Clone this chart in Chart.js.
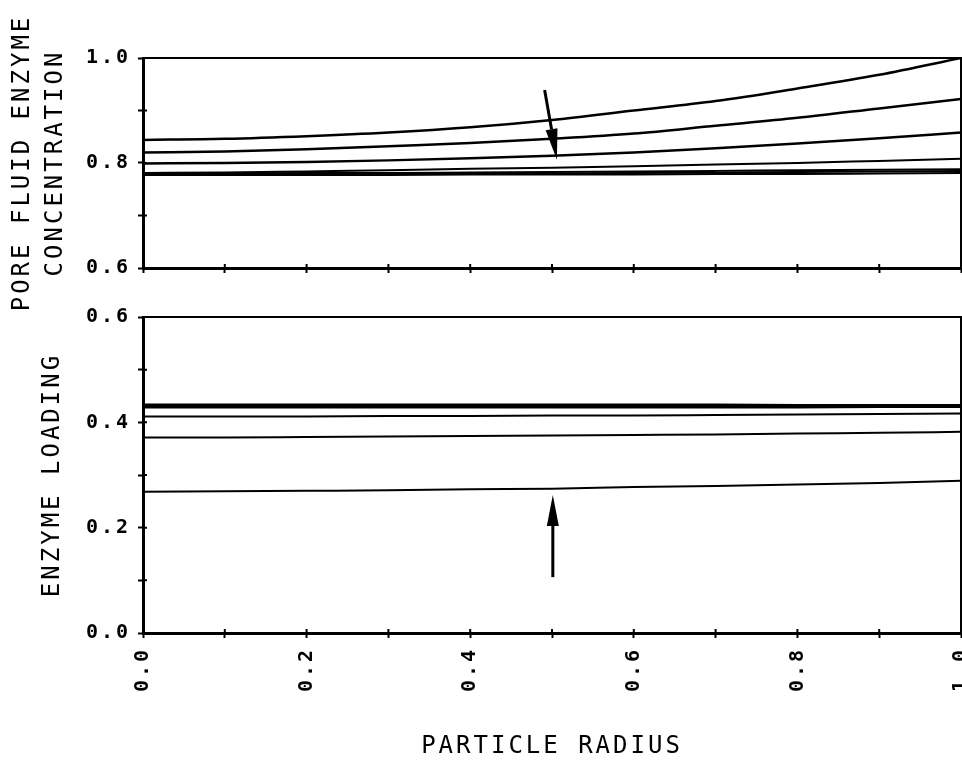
<!DOCTYPE html>
<html>
<head>
<meta charset="utf-8">
<title>Pore fluid enzyme concentration and enzyme loading</title>
<script src="https://cdn.jsdelivr.net/npm/chart.js@4.4.1/dist/chart.umd.min.js"></script>
<style>
  html, body { margin: 0; padding: 0; background: #fff; }
  #wrap { position: relative; width: 962px; height: 766px; }
  #wrap canvas { position: absolute; left: 0; top: 0; }
</style>
</head>
<body>
<div id="wrap">
  <canvas id="chartConc" width="962" height="766"></canvas>
  <canvas id="chartLoad" width="962" height="766"></canvas>
</div>
<script>
// Radial profiles: x = dimensionless particle radius
const radius = [0, 0.1, 0.2, 0.3, 0.4, 0.5, 0.6, 0.7, 0.8, 0.9, 1.0];

// Pore fluid enzyme concentration, one curve per run
const conc1 = [0.844, 0.846, 0.851, 0.858, 0.868, 0.882, 0.900, 0.918, 0.942, 0.968, 1.000];
const conc2 = [0.820, 0.822, 0.826, 0.832, 0.838, 0.846, 0.856, 0.871, 0.886, 0.904, 0.922];
const conc3 = [0.799, 0.800, 0.802, 0.805, 0.809, 0.814, 0.820, 0.828, 0.837, 0.847, 0.858];
const conc4 = [0.781, 0.782, 0.784, 0.786, 0.789, 0.791, 0.794, 0.797, 0.800, 0.804, 0.808];
const conc5 = [0.780, 0.780, 0.781, 0.781, 0.782, 0.783, 0.784, 0.785, 0.786, 0.787, 0.788];
const conc6 = [0.778, 0.778, 0.778, 0.779, 0.779, 0.780, 0.781, 0.782, 0.783, 0.784, 0.785];
const conc7 = [0.777, 0.777, 0.777, 0.777, 0.778, 0.778, 0.778, 0.779, 0.779, 0.780, 0.781];

// Enzyme loading, same runs
const load1 = [0.268, 0.269, 0.270, 0.271, 0.273, 0.274, 0.277, 0.279, 0.282, 0.285, 0.289];
const load2 = [0.371, 0.371, 0.372, 0.373, 0.374, 0.375, 0.376, 0.377, 0.379, 0.380, 0.382];
const load3 = [0.411, 0.411, 0.411, 0.412, 0.412, 0.413, 0.413, 0.414, 0.415, 0.416, 0.417];
const load4 = [0.428, 0.428, 0.428, 0.428, 0.428, 0.428, 0.428, 0.428, 0.428, 0.429, 0.429];
const load5 = [0.431, 0.431, 0.431, 0.431, 0.431, 0.431, 0.431, 0.431, 0.431, 0.431, 0.431];
const load6 = [0.434, 0.434, 0.434, 0.434, 0.434, 0.434, 0.434, 0.434, 0.433, 0.433, 0.433];

// Axis ticks (marks) and the ones that carry a label
const xTicks = [0, 0.1, 0.2, 0.3, 0.4, 0.5, 0.6, 0.7, 0.8, 0.9, 1.0];
const xLabels = [0, 0.2, 0.4, 0.6, 0.8, 1.0];
const concTicks = [0.6, 0.7, 0.8, 0.9, 1.0];
const concLabels = [0.6, 0.8, 1.0];
const loadTicks = [0, 0.1, 0.2, 0.3, 0.4, 0.5, 0.6];
const loadLabels = [0, 0.2, 0.4, 0.6];

// Arrows showing the direction of the parameter change (data coordinates)
const concArrow = { from: [0.491, 0.939], to: [0.506, 0.806] };
const loadArrow = { from: [0.501, 0.106], to: [0.501, 0.262] };

const FONT = "'DejaVu Sans Mono', monospace";
const tickFont = { family: FONT, size: 20, weight: 'bold' };
const titleFont = { family: FONT, size: 24, weight: 'normal', lineHeight: 1.375 };

const hasLabel = (list, v) => list.some(l => Math.abs(l - v) < 1e-6);

function series(values, width) {
    return {
        data: radius.map((r, i) => ({ x: r, y: values[i] })),
        borderColor: '#000',
        borderWidth: width,
        pointRadius: 0,
        cubicInterpolationMode: 'monotone',
        fill: false
    };
}

function tickGrid() {
    return { drawOnChartArea: false, drawTicks: true, tickLength: 5, tickWidth: 2, tickColor: '#000' };
}

function yAxis(min, max, ticks, labelled, title, titlePad) {
    return {
        type: 'linear',
        min, max,
        afterBuildTicks: s => { s.ticks = ticks.map(v => ({ value: v })); },
        afterFit: s => { s.width = 143; },
        ticks: {
            autoSkip: false,
            padding: 7,
            color: '#000',
            font: tickFont,
            callback: v => hasLabel(labelled, v) ? v.toFixed(1) : ''
        },
        grid: tickGrid(),
        border: { color: '#000', width: 3 },
        title: { display: true, text: title, color: '#000', font: titleFont, padding: { top: titlePad, bottom: 0 } }
    };
}

function xAxis(withLabels) {
    return {
        type: 'linear',
        min: 0, max: 1,
        afterBuildTicks: s => { s.ticks = xTicks.map(v => ({ value: v })); },
        afterFit: s => {
            s.height = withLabels ? 133 : 10;
            s.paddingLeft = 0;
            s.paddingRight = 0;
        },
        ticks: {
            display: withLabels,
            autoSkip: false,
            minRotation: 90,
            maxRotation: 90,
            padding: 9,
            color: '#000',
            font: tickFont,
            callback: v => hasLabel(xLabels, v) ? v.toFixed(1) : ''
        },
        grid: tickGrid(),
        border: { color: '#000', width: 3 },
        title: {
            display: withLabels,
            text: 'PARTICLE RADIUS',
            color: '#000',
            font: titleFont,
            padding: { top: 0, bottom: 2.5 }
        }
    };
}

// wide plotter-style lettering
const spacing = {
    id: 'spacing',
    beforeDraw(chart) { chart.ctx.letterSpacing = '3px'; }
};

// box around the plot area and tick marks that also point inward
const frame = {
    id: 'frame',
    afterDraw(chart) {
        const { ctx, chartArea: a, scales } = chart;
        ctx.save();
        ctx.strokeStyle = '#000';
        ctx.lineWidth = 2;
        ctx.strokeRect(a.left, a.top, a.right - a.left, a.bottom - a.top);
        ctx.beginPath();
        scales.x.ticks.forEach((t, i) => {
            const px = scales.x.getPixelForTick(i);
            ctx.moveTo(px, a.bottom);
            ctx.lineTo(px, a.bottom - 4);
        });
        scales.y.ticks.forEach((t, i) => {
            const py = scales.y.getPixelForTick(i);
            ctx.moveTo(a.left, py);
            ctx.lineTo(a.left + 4, py);
        });
        ctx.stroke();
        ctx.restore();
    }
};

const arrows = {
    id: 'arrows',
    afterDatasetsDraw(chart, args, opts) {
        const { ctx, scales } = chart;
        (opts.list || []).forEach(arr => {
            const x0 = scales.x.getPixelForValue(arr.from[0]);
            const y0 = scales.y.getPixelForValue(arr.from[1]);
            const x1 = scales.x.getPixelForValue(arr.to[0]);
            const y1 = scales.y.getPixelForValue(arr.to[1]);
            const ang = Math.atan2(y1 - y0, x1 - x0);
            const headLen = 31, headHalf = 6;
            const bx = x1 - headLen * Math.cos(ang);
            const by = y1 - headLen * Math.sin(ang);
            ctx.save();
            ctx.strokeStyle = '#000';
            ctx.fillStyle = '#000';
            ctx.lineWidth = 3;
            ctx.beginPath();
            ctx.moveTo(x0, y0);
            ctx.lineTo(bx, by);
            ctx.stroke();
            ctx.beginPath();
            ctx.moveTo(x1, y1);
            ctx.lineTo(bx + headHalf * Math.sin(ang), by - headHalf * Math.cos(ang));
            ctx.lineTo(bx - headHalf * Math.sin(ang), by + headHalf * Math.cos(ang));
            ctx.closePath();
            ctx.fill();
            ctx.restore();
        });
    }
};

function makeChart(canvasId, datasets, yScale, padding, withLabels, arrow) {
    const ctx = document.getElementById(canvasId).getContext('2d');
    return new Chart(ctx, {
        type: 'line',
        data: { datasets },
        options: {
            responsive: false,
            animation: false,
            devicePixelRatio: 1,
            layout: { padding },
            scales: { x: xAxis(withLabels), y: yScale },
            plugins: {
                legend: { display: false },
                tooltip: { enabled: false },
                arrows: { list: [arrow] }
            }
        },
        plugins: [spacing, frame, arrows]
    });
}

makeChart('chartConc',
    [series(conc1, 2.5), series(conc2, 2.5), series(conc3, 2.5), series(conc4, 2),
     series(conc5, 2), series(conc6, 2), series(conc7, 2)],
    yAxis(0.6, 1.0, concTicks, concLabels, ['PORE FLUID ENZYME', 'CONCENTRATION'], 6.5),
    { top: 58, right: 1, bottom: 488, left: 0 },
    false, concArrow);

makeChart('chartLoad',
    [series(load1, 2), series(load2, 2), series(load3, 2),
     series(load4, 2), series(load5, 2), series(load6, 2)],
    yAxis(0, 0.6, loadTicks, loadLabels, 'ENZYME LOADING', 36.5),
    { top: 317, right: 1, bottom: 0, left: 0 },
    true, loadArrow);
</script>
</body>
</html>
